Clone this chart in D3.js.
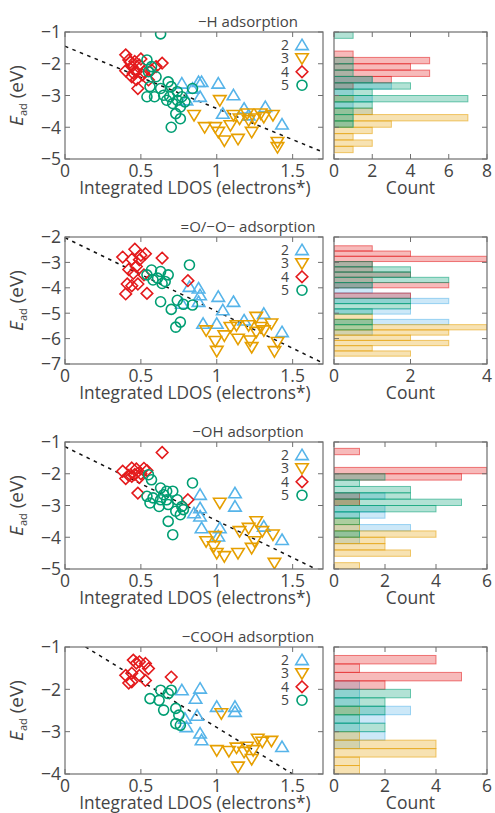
<!DOCTYPE html>
<html>
<head>
<meta charset="utf-8">
<script src="https://cdn.jsdelivr.net/npm/d3@7"></script>
<style>
  body { margin: 0; background: #fff; }
  text { font-family: "Open Sans", sans-serif; fill: #444; }
</style>
</head>
<body>
<svg id="fig" width="495" height="813"></svg>
<script>
// ---- data ----
var seriesNames = ["2", "3", "4", "5"];
var titles = ["\u2212H adsorption", "=O/\u2212O\u2212 adsorption", "\u2212OH adsorption", "\u2212COOH adsorption"];
var xTicks = [0, 0.5, 1, 1.5];
var yDomains = [[-5, -1], [-7, -2], [-5, -1], [-4, -1]];
var yTicks = [[-1, -2, -3, -4, -5], [-2, -3, -4, -5, -6, -7], [-1, -2, -3, -4, -5], [-1, -2, -3, -4]];
var countMax = [8, 4, 6, 6];
var countTicks = [[0, 2, 4, 6, 8], [0, 2, 4], [0, 2, 4, 6], [0, 2, 4, 6]];
var binTop = [-1.0, -2.345, -1.0, -1.0];
var binStep = [0.2, 0.207, 0.2, 0.2];
var fitIntercept = [-1.45, -2.03, -1.15, -0.70];
var fitSlope = [-1.96, -2.90, -2.33, -2.20];

// [integrated LDOS, E_ad]
var H2 = [[0.77,-2.62],[0.84,-2.78],[0.88,-2.57],[0.90,-2.57],[0.89,-3.04],[0.80,-3.15],[1.01,-2.62],[1.11,-2.99],[1.04,-3.57],[1.18,-3.41],[1.21,-3.62],[1.32,-3.36],[1.43,-3.91]];
var H3 = [[0.85,-3.62],[0.92,-4.00],[0.99,-4.00],[1.01,-4.15],[1.02,-3.15],[1.05,-4.42],[1.14,-4.37],[1.11,-3.62],[1.15,-3.73],[1.21,-3.78],[1.23,-4.15],[1.25,-3.73],[1.29,-3.57],[1.31,-3.68],[1.37,-3.62],[1.40,-4.47],[1.40,-4.63],[1.20,-3.57],[1.09,-3.94]];
var H4 = [[0.40,-1.72],[0.46,-1.93],[0.40,-2.22],[0.44,-2.41],[0.48,-2.78],[0.64,-1.98],[0.55,-2.51],[0.52,-2.25],[0.44,-2.09],[0.49,-2.04],[0.57,-2.20],[0.42,-1.88],[0.47,-2.25],[0.60,-2.09],[0.43,-1.95],[0.50,-1.85],[0.45,-2.30],[0.51,-2.35],[0.47,-2.50]];
var H5 = [[0.63,-1.06],[0.54,-1.88],[0.57,-2.09],[0.55,-2.25],[0.60,-2.41],[0.56,-2.72],[0.63,-2.78],[0.68,-2.57],[0.70,-2.72],[0.54,-3.04],[0.59,-3.04],[0.65,-2.99],[0.69,-3.04],[0.74,-2.88],[0.77,-3.04],[0.84,-2.78],[0.71,-3.25],[0.76,-3.36],[0.73,-3.57],[0.76,-3.73],[0.70,-4.00],[0.74,-3.15],[0.67,-3.15],[0.79,-3.20]];

var O2 = [[0.82,-3.96],[0.88,-4.02],[0.89,-4.29],[0.88,-4.55],[0.77,-4.62],[1.01,-4.35],[1.11,-4.55],[1.04,-4.88],[0.91,-5.41],[1.00,-5.41],[1.18,-5.28],[1.31,-5.02],[1.43,-5.74]];
var O3 = [[0.93,-5.68],[0.99,-6.10],[1.00,-6.49],[1.05,-5.88],[1.13,-5.48],[1.14,-6.01],[1.21,-5.48],[1.22,-6.08],[1.23,-6.34],[1.26,-5.15],[1.29,-5.55],[1.31,-5.68],[1.36,-5.41],[1.40,-6.14],[1.38,-6.50],[1.26,-5.74],[1.09,-5.55]];
var O4 = [[0.38,-2.79],[0.46,-2.48],[0.53,-2.66],[0.50,-2.72],[0.49,-2.90],[0.44,-2.88],[0.64,-2.83],[0.47,-3.16],[0.42,-3.28],[0.45,-3.43],[0.52,-3.49],[0.81,-3.72],[0.41,-3.85],[0.48,-3.85],[0.44,-3.92],[0.40,-4.24],[0.54,-4.22]];
var O5 = [[0.57,-3.30],[0.63,-3.36],[0.68,-3.49],[0.54,-3.49],[0.58,-3.69],[0.61,-3.62],[0.64,-3.83],[0.66,-3.75],[0.82,-3.10],[0.63,-4.55],[0.74,-4.49],[0.70,-4.85],[0.78,-4.65],[0.84,-4.68],[0.76,-5.35],[0.73,-5.55]];

var OH2 = [[0.89,-2.66],[1.12,-2.61],[1.12,-3.03],[0.89,-3.08],[0.85,-3.24],[0.89,-3.34],[0.90,-3.71],[1.02,-3.71],[1.01,-3.97],[1.31,-3.66],[1.43,-4.08]];
var OH3 = [[1.02,-2.92],[0.93,-4.13],[0.98,-4.29],[0.99,-3.97],[1.00,-4.50],[1.05,-4.60],[1.14,-4.50],[1.15,-3.81],[1.21,-3.71],[1.23,-4.34],[1.25,-4.13],[1.26,-3.50],[1.30,-3.81],[1.37,-3.92],[1.38,-4.81]];
var OH4 = [[0.64,-1.33],[0.38,-1.92],[0.44,-1.82],[0.47,-1.85],[0.52,-1.83],[0.54,-1.90],[0.42,-2.05],[0.46,-2.02],[0.49,-2.12],[0.50,-2.00],[0.44,-2.08],[0.40,-2.15],[0.48,-2.61],[0.81,-2.82]];
var OH5 = [[0.55,-2.03],[0.57,-2.19],[0.84,-2.29],[0.63,-2.45],[0.67,-2.55],[0.71,-2.55],[0.54,-2.71],[0.58,-2.76],[0.63,-2.82],[0.67,-2.82],[0.56,-2.92],[0.62,-3.03],[0.68,-2.97],[0.74,-2.82],[0.77,-3.03],[0.73,-3.18],[0.76,-3.29],[0.68,-3.50],[0.71,-3.92],[0.78,-3.13],[0.65,-2.66]];

var COOH2 = [[0.77,-2.02],[0.86,-2.22],[0.89,-1.98],[0.87,-2.62],[0.79,-2.69],[0.80,-2.89],[0.89,-3.04],[0.90,-3.20],[1.00,-2.41],[1.12,-2.41],[1.12,-2.53],[1.43,-3.36]];
var COOH3 = [[1.03,-2.57],[1.00,-3.44],[1.08,-3.46],[1.13,-3.38],[1.14,-3.83],[1.20,-3.36],[1.23,-3.65],[1.24,-3.44],[1.27,-3.17],[1.30,-3.24],[1.36,-3.22],[1.18,-3.48]];
var COOH4 = [[0.40,-1.67],[0.45,-1.31],[0.47,-1.38],[0.49,-1.35],[0.53,-1.39],[0.55,-1.51],[0.44,-1.62],[0.49,-1.67],[0.53,-1.79],[0.44,-1.82],[0.70,-1.71],[0.42,-1.85]];
var COOH5 = [[0.56,-2.22],[0.63,-2.02],[0.68,-2.10],[0.70,-2.02],[0.62,-2.26],[0.65,-2.49],[0.73,-2.45],[0.75,-2.61],[0.76,-2.85],[0.73,-2.81]];

var panelData = [[H2, H3, H4, H5], [O2, O3, O4, O5], [OH2, OH3, OH4, OH5], [COOH2, COOH3, COOH4, COOH5]];

// ---- style / layout ----
var colors = ["#56B4E9", "#E69F00", "#E41A1C", "#009E73"];
var shapes = ["up", "down", "diamond", "circle"];
var tops = [32, 237, 442, 647];
var plotH = 127;
var sx0 = 65, sx1 = 323, hx0 = 334, hx1 = 487;
var frameColor = "#6f6f6f";
var tickLen = 5;

var svg = d3.select("#fig");

function markerPath(shape) {
  var r = 5.8;
  if (shape === "up") return "M0," + (-r) + "L" + (r * 1.08) + "," + (r * 0.8) + "L" + (-r * 1.08) + "," + (r * 0.8) + "Z";
  if (shape === "down") return "M0," + r + "L" + (r * 1.08) + "," + (-r * 0.8) + "L" + (-r * 1.08) + "," + (-r * 0.8) + "Z";
  if (shape === "diamond") return "M0," + (-r) + "L" + r + ",0L0," + r + "L" + (-r) + ",0Z";
  return d3.arc()({innerRadius: 0, outerRadius: 5, startAngle: 0, endAngle: 2 * Math.PI});
}

function frame(g, x, y, xt, yt) {
  var x0 = x.range()[0], x1 = x.range()[1], y0 = y.range()[1], y1 = y.range()[0];
  xt.forEach(function(v) {
    var px = x(v);
    g.append("line").attr("x1", px).attr("x2", px).attr("y1", y1).attr("y2", y1 - tickLen).attr("stroke", frameColor);
    g.append("line").attr("x1", px).attr("x2", px).attr("y1", y0).attr("y2", y0 + tickLen).attr("stroke", frameColor);
  });
  yt.forEach(function(v) {
    var py = y(v);
    g.append("line").attr("x1", x0).attr("x2", x0 + tickLen).attr("y1", py).attr("y2", py).attr("stroke", frameColor);
    g.append("line").attr("x1", x1).attr("x2", x1 - tickLen).attr("y1", py).attr("y2", py).attr("stroke", frameColor);
  });
  g.append("rect").attr("x", x0).attr("y", y0).attr("width", x1 - x0).attr("height", y1 - y0)
    .attr("fill", "none").attr("stroke", frameColor).attr("stroke-width", 1.2);
}

var fmt = d3.format("~g");

panelData.forEach(function(series, p) {
  var top = tops[p], bot = top + plotH;
  var dom = yDomains[p];
  var x = d3.scaleLinear().domain([0, 1.7]).range([sx0, sx1]);
  var y = d3.scaleLinear().domain(dom).range([bot, top]);
  var hx = d3.scaleLinear().domain([0, countMax[p]]).range([hx0, hx1]);

  var g = svg.append("g");
  var clipId = "clip" + p;
  g.append("clipPath").attr("id", clipId).append("rect")
    .attr("x", sx0).attr("y", top).attr("width", sx1 - sx0).attr("height", plotH);
  g.append("clipPath").attr("id", "hclip" + p).append("rect")
    .attr("x", hx0).attr("y", top).attr("width", hx1 - hx0).attr("height", plotH);

  // fit line
  g.append("line")
    .attr("clip-path", "url(#" + clipId + ")")
    .attr("x1", x(0)).attr("y1", y(fitIntercept[p]))
    .attr("x2", x(1.7)).attr("y2", y(fitIntercept[p] + fitSlope[p] * 1.7))
    .attr("stroke", "#111").attr("stroke-width", 1.5).attr("stroke-dasharray", "3.5,4.5");

  // points
  series.forEach(function(data, s) {
    g.append("g").attr("clip-path", "url(#" + clipId + ")")
      .selectAll("path").data(data).enter().append("path")
      .attr("d", markerPath(shapes[s]))
      .attr("transform", function(d) { return "translate(" + x(d[0]) + "," + y(d[1]) + ")"; })
      .attr("fill", "none").attr("stroke", colors[s]).attr("stroke-width", 1.6);
  });

  frame(g, x, y, xTicks, yTicks[p]);

  // tick labels
  g.selectAll(".xl").data(xTicks).enter().append("text")
    .attr("x", function(d) { return x(d); }).attr("y", bot + 18)
    .attr("text-anchor", "middle").attr("font-size", 17.5).text(fmt);
  g.selectAll(".yl").data(yTicks[p]).enter().append("text")
    .attr("x", sx0 - 4).attr("y", function(d) { return y(d); }).attr("dy", "0.36em")
    .attr("text-anchor", "end").attr("font-size", 17.5).text(fmt);

  g.append("text").attr("x", (sx0 + sx1) / 2 + 1).attr("y", bot + 34.5)
    .attr("text-anchor", "middle").attr("font-size", 17.3).text("Integrated LDOS (electrons*)");

  var yl = g.append("text").attr("transform", "translate(23," + (top + plotH / 2) + ") rotate(-90)")
    .attr("text-anchor", "middle").attr("font-size", 19);
  yl.append("tspan").attr("font-style", "italic").text("E");
  yl.append("tspan").attr("font-size", 11).attr("dy", 4).text("ad");
  yl.append("tspan").attr("dy", -4).text(" (eV)");

  g.append("text").attr("x", 248).attr("y", top - 5).attr("text-anchor", "middle")
    .attr("font-size", 15).text(titles[p]);

  // legend
  seriesNames.forEach(function(name, s) {
    var ly = top + 13 + s * 13.4;
    g.append("text").attr("x", 289).attr("y", ly).attr("dy", "0.36em")
      .attr("text-anchor", "end").attr("font-size", 14).text(name);
    g.append("path").attr("d", markerPath(shapes[s]))
      .attr("transform", "translate(302," + ly + ")")
      .attr("fill", "none").attr("stroke", colors[s]).attr("stroke-width", 1.6);
  });

  // histogram (shared y)
  var thr = d3.range(binTop[p], dom[0] - 1e-9, -binStep[p]).map(function(v) { return +v.toFixed(4); }).reverse();
  var bin = d3.bin().value(function(d) { return d[1]; }).domain(dom).thresholds(thr);
  var hg = svg.append("g");
  series.forEach(function(data, s) {
    var bins = bin(data).filter(function(b) { return b.length > 0; });
    hg.append("g").attr("clip-path", "url(#hclip" + p + ")")
      .selectAll("rect").data(bins).enter().append("rect")
      .attr("x", hx(0))
      .attr("y", function(b) { return y(b.x1); })
      .attr("width", function(b) { return hx(b.length) - hx(0); })
      .attr("height", function(b) { return y(b.x0) - y(b.x1); })
      .attr("fill", colors[s]).attr("fill-opacity", 0.3)
      .attr("stroke", colors[s]).attr("stroke-opacity", 0.55).attr("stroke-width", 1);
  });
  frame(hg, hx, y, countTicks[p], yTicks[p]);
  hg.selectAll(".cl").data(countTicks[p]).enter().append("text")
    .attr("x", function(d) { return hx(d); }).attr("y", bot + 18)
    .attr("text-anchor", "middle").attr("font-size", 17.5).text(fmt);
  hg.append("text").attr("x", (hx0 + hx1) / 2).attr("y", bot + 34.5)
    .attr("text-anchor", "middle").attr("font-size", 17.5).text("Count");
});
</script>
</body>
</html>
